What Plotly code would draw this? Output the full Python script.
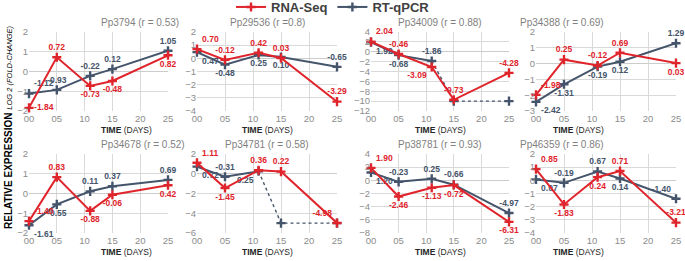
import plotly.graph_objects as go

# ---------------- data ----------------
days = [0, 5, 11, 15, 25]
tick_days = [0, 5, 10, 15, 20, 25]
tick_labels = ["00", "05", "10", "15", "20", "25"]

genes = ["Pp3794", "Pp29536", "Pp34009", "Pp34388",
         "Pp34678", "Pp34781", "Pp38781", "Pp46359"]
r_texts = ["(r = 0.53)", "(r =0.8)", "(r = 0.88)", "(r = 0.69)",
           "(r = 0.52)", "(r = 0.58)", "(r = 0.93)", "(r = 0.86)"]

rna_pp3794 = [-1.84, 0.72, -0.73, -0.48, 0.82]
qpcr_pp3794 = [-1.12, -0.93, -0.22, 0.12, 1.05]
rna_pp29536 = [0.70, -0.12, 0.42, 0.03, -3.29]
qpcr_pp29536 = [0.47, -0.48, 0.25, 0.10, -0.65]
rna_pp34009 = [2.04, -0.46, -3.09, -9.73, -4.28]
qpcr_pp34009 = [1.92, -0.68, -1.86, -10, -10]
rna_pp34388 = [-1.98, 0.25, -0.12, 0.69, 0.03]
qpcr_pp34388 = [-2.42, -1.31, -0.19, 0.12, 1.29]
rna_pp34678 = [-1.40, 0.83, -0.88, -0.06, 0.42]
qpcr_pp34678 = [-1.61, -0.55, 0.11, 0.37, 0.69]
rna_pp34781 = [1.11, -1.45, 0.36, 0.22, -4.98]
qpcr_pp34781 = [0.72, -0.31, 0.25, -5, -5]
rna_pp38781 = [1.90, -2.46, -1.13, -0.72, -6.31]
qpcr_pp38781 = [1.20, -0.23, 0.25, -0.66, -4.97]
rna_pp46359 = [0.85, -1.83, 0.24, 0.71, -3.21]
qpcr_pp46359 = [0.07, -0.19, 0.67, 0.14, -1.40]

# qPCR points below detection (drawn dotted, unlabeled)
nd_pp34009 = [False, False, False, True, True]
nd_pp34781 = [False, False, False, True, True]
nd_none = [False] * 5

rna_all = [rna_pp3794, rna_pp29536, rna_pp34009, rna_pp34388,
           rna_pp34678, rna_pp34781, rna_pp38781, rna_pp46359]
qpcr_all = [qpcr_pp3794, qpcr_pp29536, qpcr_pp34009, qpcr_pp34388,
            qpcr_pp34678, qpcr_pp34781, qpcr_pp38781, qpcr_pp46359]
nd_all = [nd_none, nd_none, nd_pp34009, nd_none,
          nd_none, nd_pp34781, nd_none, nd_none]

y_min = [-2, -4, -12, -3, -2, -6, -8, -4]
y_max = [2, 2, 4, 2, 2, 2, 4, 2]
y_step = [1, 1, 2, 1, 1, 2, 2, 1]

# ---------------- style ----------------
RED = "#e0242c"
BLUE = "#44546a"
W, H = 685, 261
FONT = "Liberation Sans"
MS = 6.5        # marker size
MLW = 2.4       # marker stroke
LBL = 8.5       # data label font size

# label positions
rna_pos = [
    ["middle right", "top center", "bottom center", "bottom center", "bottom center"],
    ["top right", "top center", "top center", "top center", "top center"],
    ["top right", "top center", "bottom left", "top center", "top center"],
    ["top right", "top center", "top center", "top center", "bottom center"],
    ["top right", "top center", "bottom center", "bottom center", "bottom center"],
    ["top right", "bottom center", "top center", "top center", "top left"],
    ["top right", "bottom center", "bottom center", "bottom center", "bottom center"],
    ["top right", "bottom center", "bottom center", "top center", "top center"],
]
qpcr_pos = [
    ["top right", "top center", "top center", "top center", "top center"],
    ["bottom right", "bottom center", "bottom center", "bottom center", "top center"],
    ["bottom right", "bottom center", "top center", "top center", "top center"],
    ["bottom right", "bottom center", "bottom center", "bottom center", "top center"],
    ["bottom right", "bottom center", "top center", "top center", "top center"],
    ["bottom right", "top center", "bottom left", "top center", "top center"],
    ["bottom right", "top center", "top center", "top center", "top center"],
    ["bottom right", "top center", "top center", "bottom center", "top left"],
]

# plot area pixel boxes (x0, x1) for columns, (top, bottom) for rows
cols = [(29, 168), (197, 337), (371, 509), (536, 676)]
rows = [(32, 111), (154, 233)]

fig = go.Figure()
layout_axes = {}
annotations = []


def cross(color):
    return dict(symbol="cross-thin", size=MS, line=dict(color=color, width=MLW))


for i in range(8):
    r, c = divmod(i, 4)
    n = i + 1
    xa = "x" if n == 1 else f"x{n}"
    ya = "y" if n == 1 else f"y{n}"
    x0, x1 = cols[c]
    top, bot = rows[r]
    xdom = [x0 / W, x1 / W]
    ydom = [1 - bot / H, 1 - top / H]

    rna = rna_all[i]
    qp = qpcr_all[i]
    nd = nd_all[i]

    det_idx = [k for k in range(5) if not nd[k]]
    if any(nd):
        first = min(k for k in range(5) if nd[k]) - 1
        idx = list(range(first, 5))
        fig.add_trace(go.Scatter(
            x=[days[k] for k in idx], y=[qp[k] for k in idx],
            mode="lines", line=dict(color=BLUE, width=1.4, dash="dot"),
            showlegend=False, cliponaxis=False, xaxis=xa, yaxis=ya))
        nd_idx = [k for k in range(5) if nd[k]]
        fig.add_trace(go.Scatter(
            x=[days[k] for k in nd_idx], y=[qp[k] for k in nd_idx],
            mode="markers", marker=cross(BLUE),
            showlegend=False, cliponaxis=False, xaxis=xa, yaxis=ya))
    fig.add_trace(go.Scatter(
        x=[days[k] for k in det_idx], y=[qp[k] for k in det_idx],
        mode="lines+markers+text",
        text=[f"{qp[k]:.2f}" for k in det_idx],
        textposition=[qpcr_pos[i][k] for k in det_idx],
        textfont=dict(family=FONT, size=LBL, color=BLUE, weight="bold"),
        line=dict(color=BLUE, width=2),
        marker=cross(BLUE),
        showlegend=False, cliponaxis=False, xaxis=xa, yaxis=ya))

    fig.add_trace(go.Scatter(
        x=days, y=rna, mode="lines+markers+text",
        text=[f"{v:.2f}" for v in rna],
        textposition=rna_pos[i],
        textfont=dict(family=FONT, size=LBL, color=RED, weight="bold"),
        line=dict(color=RED, width=2),
        marker=cross(RED),
        showlegend=False, cliponaxis=False, xaxis=xa, yaxis=ya))

    layout_axes["xaxis" if n == 1 else f"xaxis{n}"] = dict(
        domain=xdom, range=[0, 25], tickvals=tick_days, ticktext=tick_labels,
        showgrid=True, gridcolor="#d9d9d9", gridwidth=1, zeroline=False,
        showline=False, ticks="", anchor=ya, automargin=False,
        tickfont=dict(family=FONT, size=9.5, color="#8c8c8c"), fixedrange=True)
    layout_axes["yaxis" if n == 1 else f"yaxis{n}"] = dict(
        domain=ydom, range=[y_min[i], y_max[i]], dtick=y_step[i], tick0=0,
        showgrid=True, gridcolor="#d9d9d9", gridwidth=1,
        zeroline=True, zerolinecolor="#cccccc", zerolinewidth=1,
        showline=False, ticks="", anchor=xa, automargin=False,
        tickfont=dict(family=FONT, size=9.5, color="#8c8c8c"), fixedrange=True)

    cx = (x0 + x1) / 2 / W
    annotations.append(dict(
        text=f"{genes[i]} {r_texts[i]}", x=cx, y=1 - (top - 10) / H,
        xref="paper", yref="paper", showarrow=False, yanchor="middle",
        font=dict(family=FONT, size=10, color="#7f7f7f")))
    annotations.append(dict(
        text="<b>TIME</b> (DAYS)", x=cx, y=1 - (bot + 19) / H,
        xref="paper", yref="paper", showarrow=False, yanchor="middle",
        font=dict(family=FONT, size=8.5, color="#262626")))

# legend entries through the library legend
fig.add_trace(go.Scatter(
    x=[None], y=[None], mode="lines+markers", name="RNA-Seq",
    line=dict(color=RED, width=2), marker=cross(RED)))
fig.add_trace(go.Scatter(
    x=[None], y=[None], mode="lines+markers", name="RT-qPCR",
    line=dict(color=BLUE, width=2), marker=cross(BLUE)))

annotations.append(dict(
    text="<b>RELATIVE EXPRESSION</b> <i><span style='font-size:7.5px'>LOG 2 (FOLD-CHANGE)</span></i>",
    x=8 / W, y=1 - 127 / H, xref="paper", yref="paper", showarrow=False,
    textangle=-90, xanchor="center", yanchor="middle",
    font=dict(family=FONT, size=10, color="#000000")))

fig.update_layout(
    width=W, height=H,
    margin=dict(l=0, r=0, t=0, b=0, autoexpand=False),
    paper_bgcolor="white", plot_bgcolor="white",
    showlegend=True,
    legend=dict(orientation="h", x=333 / W, xanchor="center", y=1 - 7 / H,
                yanchor="middle", traceorder="normal",
                font=dict(family=FONT, size=13, color="#404040", weight="bold"),
                itemwidth=30, bgcolor="rgba(0,0,0,0)"),
    annotations=annotations,
    **layout_axes)

fig.write_html("out.html", config={"displayModeBar": False},
               post_script="document.body.style.margin='0px';")
